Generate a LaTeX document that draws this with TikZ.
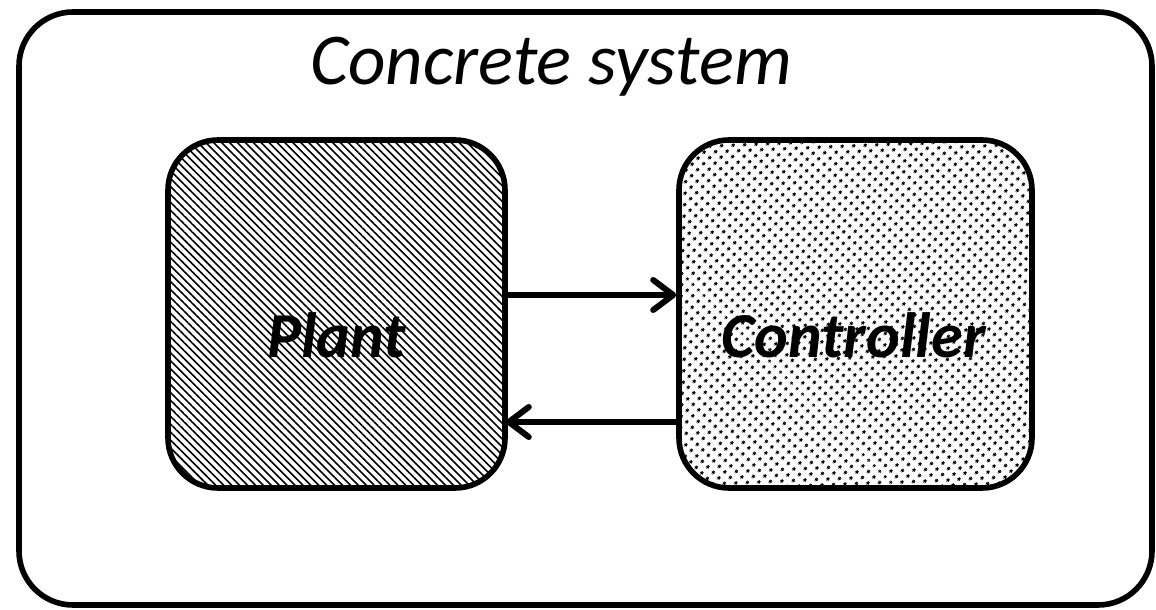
\documentclass[tikz,border=0pt]{standalone}
\usepackage{fontspec}
\setmainfont{Carlito}
\usetikzlibrary{calc}
\usetikzlibrary{arrows.meta, patterns.meta}

\begin{document}
\begin{tikzpicture}[
		x=0.5pt, y=-0.5pt,
		>={Straight Barb[length=10pt, width=15pt, line cap=round, line join=round]},
		block/.style={draw, line width=2.8pt, rounded corners=25pt, minimum height=174pt},
		blockname/.style={anchor=base, font=\fontsize{32}{38}\selectfont\bfseries\itshape},
		flow/.style={line width=3pt, ->},
	]
	\useasboundingbox (0,0) rectangle (1156,610);
	% the surrounding system
	\draw[line width=2.8pt, rounded corners=27pt] (19,12) rectangle (1152,605);
	\node[anchor=base, font=\fontsize{36.5}{44}\selectfont\itshape] (title) at (551,85) {Concrete system};
	% the two parts of the loop
	\node[block, minimum width=168.5pt,
		pattern={Lines[angle=-45, distance=2.8pt, line width=0.8pt]}] (plant) at (336.5,314) {};
	\node[block, minimum width=176.5pt,
		pattern={Dots[angle=45, distance=4pt, radius=0.9pt]}] (ctrl) at (855.5,314) {};
	\node[blockname] (plantname) at ($(plant.center)+(0,43)$) {Plant};
	\node[blockname] (ctrlname) at ($(ctrl.center)+(-2,43)$) {Controller};
	\coordinate (out) at ($(plant.east)+(0,-19)$);
	\coordinate (in) at ($(ctrl.west)+(0,108)$);
	\draw[flow] (out) -- (ctrl.west |- out);
	\draw[flow] (in) -- (plant.east |- in);
\end{tikzpicture}
\end{document}
